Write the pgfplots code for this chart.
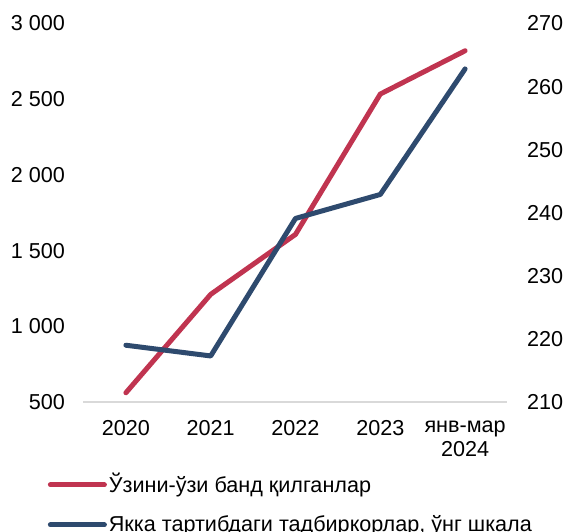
\documentclass[border=0pt]{standalone}
\usepackage{fontspec}
\setmainfont{Liberation Sans}
\usepackage{pgfplots}
\pgfplotsset{compat=1.18}
\definecolor{redline}{RGB}{192,52,80}
\definecolor{blueline}{RGB}{46,74,110}
\definecolor{axisgray}{RGB}{217,217,217}

\begin{document}
\fontsize{10.8}{12}\selectfont
\begin{tikzpicture}
\useasboundingbox (-41.75pt,-64.5pt) rectangle (239.75pt,201pt);
\pgfplotsset{
  base/.style={
    scale only axis, width=212pt, height=189.25pt,
    xmin=-0.5, xmax=4.5,
    axis line style={draw=none},
    tick style={draw=none},
    major tick length=0pt,
    clip=false,
    font=\fontsize{10.8}{12}\selectfont,
  },
  serie/.style={line width=2.5pt, line cap=round, line join=round},
}
% left scale
\begin{axis}[base,
  ymin=500, ymax=3000,
  ytick={500,1000,1500,2000,2500,3000},
  yticklabels={500,1 000,1 500,2 000,2 500,3 000},
  yticklabel style={xshift=-5.5pt},
  xtick={0,1,2,3,4},
  xticklabels={2020,2021,2022,2023,{янв-мар\\2024}},
  xticklabel style={align=center, yshift=-5.5pt},
]
\draw[axisgray, line width=1pt] (rel axis cs:0,0) -- (rel axis cs:1,0);
\addplot[redline, serie] coordinates {(0,561)(1,1211)(2,1607)(3,2534)(4,2820)};
\end{axis}
% right scale
\begin{axis}[base,
  ymin=210, ymax=270,
  ytick={210,220,230,240,250,260,270},
  yticklabels={210,220,230,240,250,260,270},
  yticklabel pos=right,
  yticklabel style={xshift=6pt},
  xtick=\empty,
  legend cell align=left,
  legend image code/.code={\draw[#1] (0pt,0pt) -- (27pt,0pt);},
  legend style={at={(0,0)}, anchor=north west, xshift=-18pt, yshift=-34.5pt,
    draw=none, fill=none, inner sep=0pt, row sep=7.5pt,
    nodes={inner sep=1pt}, font=\fontsize{10.8}{12}\selectfont},
]
\addlegendimage{redline, serie}
\addlegendentry{Ўзини-ўзи банд қилганлар}
\addplot[blueline, serie] coordinates {(0,219.0)(1,217.3)(2,239.1)(3,242.9)(4,262.8)};
\addlegendentry{Якка тартибдаги тадбиркорлар, ўнг шкала}
\end{axis}
\end{tikzpicture}
\end{document}
